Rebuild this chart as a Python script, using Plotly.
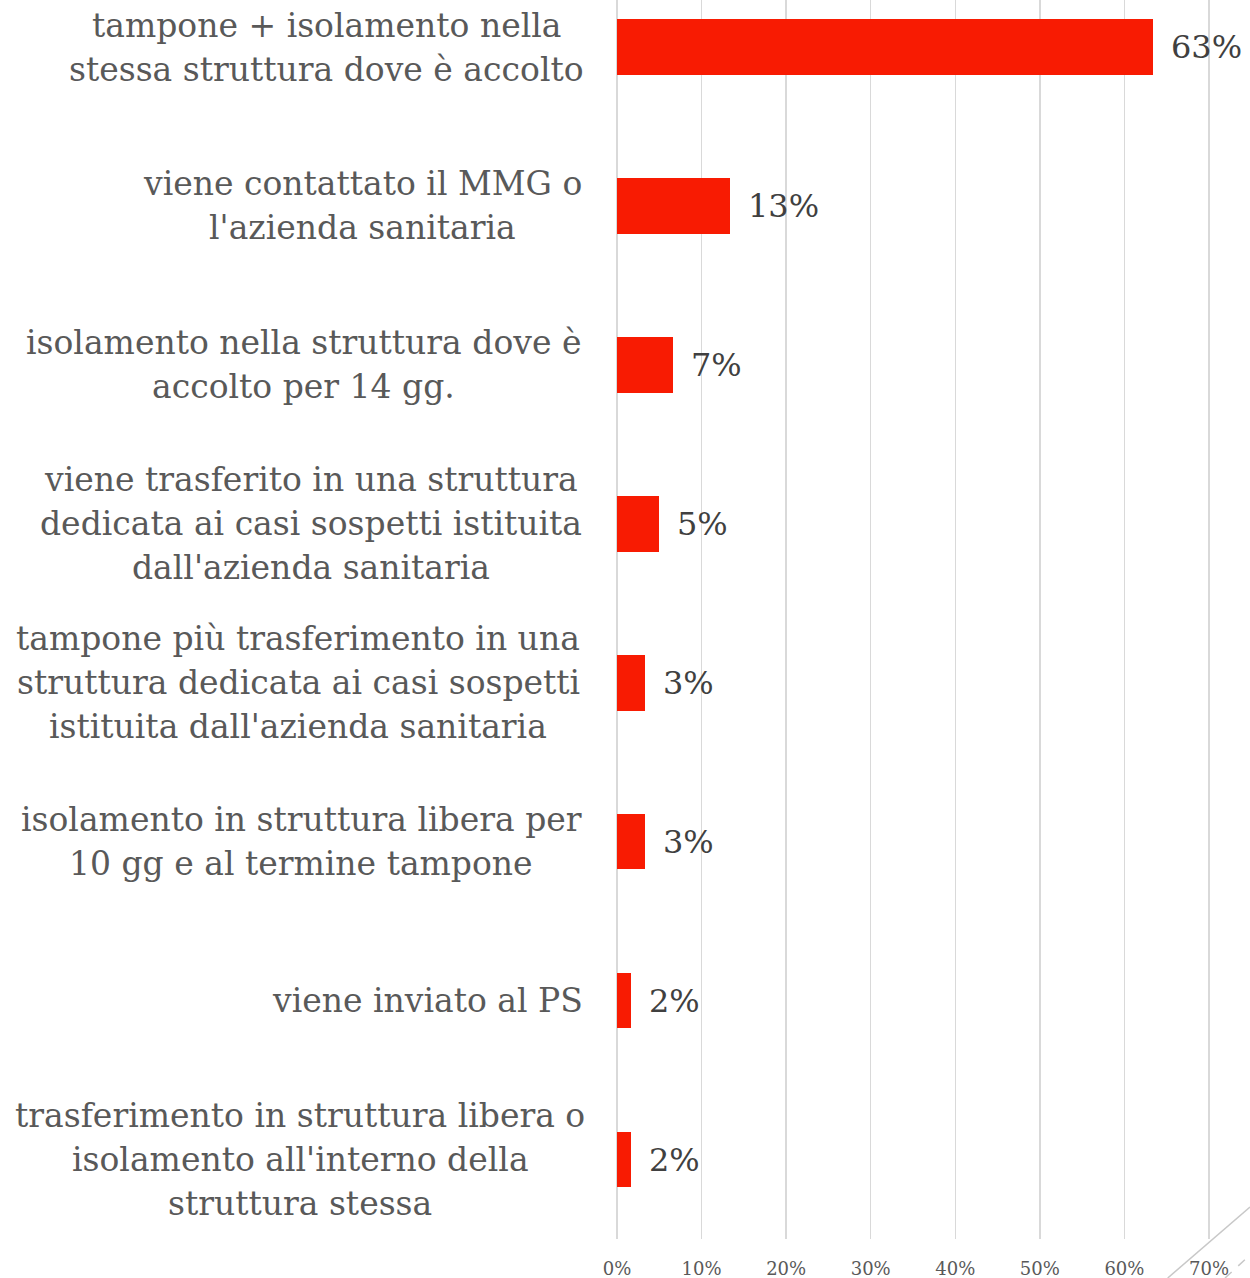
import plotly.graph_objects as go

categories = [
    ["tampone + isolamento nella", "stessa struttura dove è accolto"],
    ["viene contattato il MMG o", "l'azienda sanitaria"],
    ["isolamento nella struttura dove è", "accolto per 14 gg."],
    ["viene trasferito in una struttura", "dedicata ai casi sospetti istituita", "dall'azienda sanitaria"],
    ["tampone più trasferimento in una", "struttura dedicata ai casi sospetti", "istituita dall'azienda sanitaria"],
    ["isolamento in struttura libera per", "10 gg e al termine tampone"],
    ["viene inviato al PS"],
    ["trasferimento in struttura libera o", "isolamento all'interno della", "struttura stessa"],
]
values = [63.4, 13.4, 6.6, 5.0, 3.3, 3.3, 1.7, 1.7]
value_labels = ["63%", "13%", "7%", "5%", "3%", "3%", "2%", "2%"]
tick_vals = [0, 10, 20, 30, 40, 50, 60, 70]
tick_text = ["0%", "10%", "20%", "30%", "40%", "50%", "60%", "70%"]

RED = "#F81B02"
GRID = "#D9D9D9"
LABEL_COLOR = "#595959"
VALUE_COLOR = "#404040"
SERIF = "DejaVu Serif"
LBL_SIZE = 33
LINE_PX = 44

W, H = 1250, 1278
ML, MR, MT, MB = 617, 0, 0, 39
PW = W - ML - MR

# horizontal centre (in page pixels) of each left-hand label block
label_center_px = [326, 362, 303, 311, 298, 301, 427, 300]

ypos = list(range(len(values)))

fig = go.Figure()
fig.add_trace(go.Bar(
    x=values, y=ypos, orientation="h",
    marker=dict(color=RED, line=dict(width=0)),
    width=0.35, showlegend=False, hoverinfo="skip",
))

annotations = []
for i, lines in enumerate(categories):
    n = len(lines)
    cx = (label_center_px[i] - ML) / PW
    for j, ln in enumerate(lines):
        off = j - (n - 1) / 2
        annotations.append(dict(
            x=cx, xref="paper", y=i, yref="y",
            xanchor="center", yanchor="middle", align="center",
            text=ln, showarrow=False,
            font=dict(family=SERIF, size=LBL_SIZE, color=LABEL_COLOR),
            yshift=-off * LINE_PX,
        ))
    annotations.append(dict(
        x=values[i], y=i, xref="x", yref="y",
        xanchor="left", yanchor="middle", xshift=16,
        text=value_labels[i], showarrow=False,
        font=dict(family=SERIF, size=32, color=VALUE_COLOR),
    ))

fig.update_layout(
    width=W, height=H,
    margin=dict(l=ML, r=MR, t=MT, b=MB),
    plot_bgcolor="white", paper_bgcolor="white",
    annotations=annotations,
    bargap=0,
    shapes=[
        dict(type="line", xref="paper", yref="paper", x0=0.870, y0=-0.0315, x1=1.0, y1=0.0258,
             line=dict(color="#C8C8C8", width=1.5)),
        dict(type="line", xref="paper", yref="paper", x0=0.9605, y0=-0.0315, x1=1.0, y1=-0.0129,
             line=dict(color="#C8C8C8", width=1.5, dash="dash")),
    ],
)
fig.update_xaxes(
    range=[0, 74.85], tickvals=tick_vals, ticktext=tick_text,
    showgrid=True, gridcolor=GRID, gridwidth=1.5,
    zeroline=True, zerolinecolor=GRID, zerolinewidth=1.5,
    showline=False, ticks="", ticklabelstandoff=17,
    tickfont=dict(family=SERIF, size=18, color=LABEL_COLOR),
)
fig.update_yaxes(
    range=[7.5, -0.296], showticklabels=False, showgrid=False,
    zeroline=False, showline=False, ticks="",
)

fig.write_html(
    "out.html",
    config={"displayModeBar": False, "staticPlot": True},
    post_script="document.body.style.margin='0';document.body.style.overflow='hidden';",
)
